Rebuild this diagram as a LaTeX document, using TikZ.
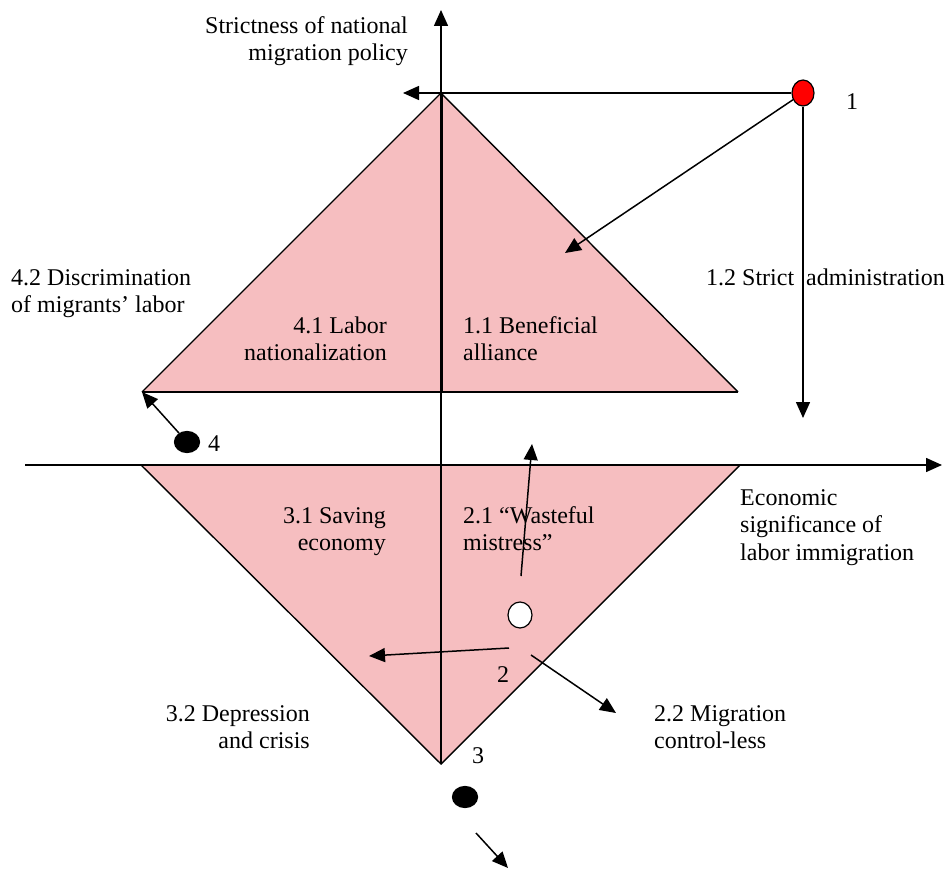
\documentclass[tikz,border=0pt]{standalone}
\usepackage{fontspec}
\setmainfont{Liberation Serif}
\usetikzlibrary{arrows.meta,shapes.geometric}
\definecolor{zonepink}{RGB}{246,190,192}
\begin{document}
\begin{tikzpicture}[x=1pt,y=-1pt,
  lbl/.style={inner sep=0pt,font=\fontsize{24}{27.6}\selectfont},
  arr/.style={line width=1.5pt,-{Triangle[length=16pt,width=14pt]}},
  edge/.style={line width=1.4pt},
  dotnode/.style={ellipse,draw,line width=1.2pt,inner sep=0pt}]
\useasboundingbox (0,0) rectangle (947,869);
% key points
\coordinate (apex) at (441,93);
\coordinate (ul) at (142,392);
\coordinate (ur) at (738,392);
\coordinate (ub) at (441,392);
\coordinate (ll) at (141,465);
\coordinate (lr) at (740,465);
\coordinate (lv) at (441,764);
\coordinate (vtop) at (441,10);
\coordinate (hleft) at (25,465);
\coordinate (hright) at (942,465);
% zones
\fill[zonepink] (ul) -- (apex) -- (ur) -- cycle;
\fill[zonepink] (ll) -- (lr) -- (lv) -- cycle;
\draw[edge] (ul) -- (apex) -- (ur);
\draw[line width=2.2pt] (ul) -- (ur);
\draw[edge] (ll) -- (lv) -- (lr);
% axes
\draw[arr] (lv) -- (vtop);
\draw[line width=3pt] (apex) -- (ub);
\draw[arr] (hleft) -- (hright);
% dots
\node[dotnode,fill=red,minimum width=22pt,minimum height=26pt] (d1) at (803,93) {};
\node[dotnode,fill=white,minimum width=24pt,minimum height=26pt] (d2) at (520,615) {};
\node[dotnode,fill=black,minimum width=25pt,minimum height=21pt] (d4) at (187,442) {};
\node[dotnode,fill=black,minimum width=25pt,minimum height=21pt] (d3) at (465,797) {};
% arrow ends
\coordinate (t1a) at (403,93);
\coordinate (t1b) at (565,253);
\coordinate (t1c) at (803,418);
\coordinate (s2a) at (521,576);
\coordinate (t2a) at (532,444);
\coordinate (s2b) at (509,648);
\coordinate (t2b) at (369,656);
\coordinate (s2c) at (531,655);
\coordinate (t2c) at (616,713);
\coordinate (s3) at (476,833);
\coordinate (t3) at (508,868);
% arrows
\draw[arr] (d1) -- (t1a);
\draw[arr] (d1) -- (t1b);
\draw[arr] (d1) -- (t1c);
\draw[arr] (d4) -- (ul);
\draw[arr] (s2a) -- (t2a);
\draw[arr] (s2b) -- (t2b);
\draw[arr] (s2c) -- (t2c);
\draw[arr] (s3) -- (t3);
% labels
\node[lbl,anchor=north east,align=right] (ly) at (408,13.7) {\strut Strictness of national\\migration policy};
\node[lbl,anchor=north west,align=left] (lx) at (740,485.7) {\strut Economic\\significance of\\labor immigration};
\node[lbl,anchor=base west] (n1) at (846,110) {1};
\node[lbl,anchor=base west] (n2) at (497,682) {2};
\node[lbl,anchor=base west] (n3) at (472,763) {3};
\node[lbl,anchor=base west] (n4) at (208,451) {4};
\node[lbl,anchor=base west] (l12) at (706,285) {1.2 Strict\hspace{6pt} administration};
\node[lbl,anchor=north west,align=left] (l11) at (463,313.7) {\strut 1.1 Beneficial\\alliance};
\node[lbl,anchor=north east,align=right] (l41) at (387,313.7) {\strut 4.1 Labor\\nationalization};
\node[lbl,anchor=north west,align=left] (l42) at (11,265.7) {\strut 4.2 Discrimination\\of migrants’ labor};
\node[lbl,anchor=north east,align=right] (l31) at (386,503.7) {\strut 3.1 Saving\\economy};
\node[lbl,anchor=north west,align=left] (l21) at (463,503.7) {\strut 2.1 “Wasteful\\mistress”};
\node[lbl,anchor=north west,align=left] (l22) at (654,701.7) {\strut 2.2 Migration\\control-less};
\node[lbl,anchor=north east,align=right] (l32) at (310,701.7) {\strut 3.2 Depression\\and crisis};
\end{tikzpicture}
\end{document}
